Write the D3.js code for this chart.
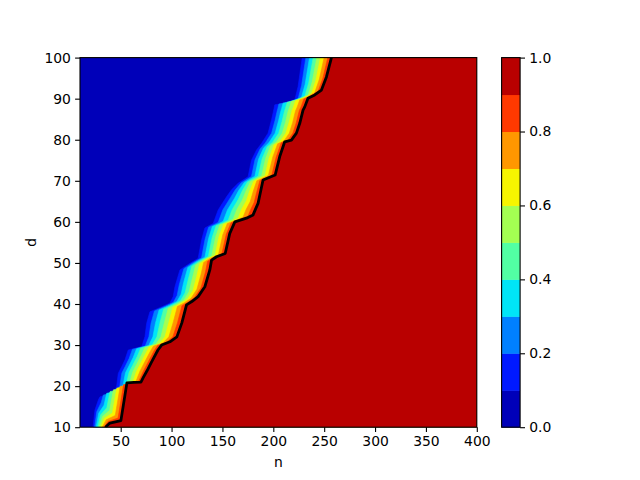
<!DOCTYPE html>
<html>
<head>
<meta charset="utf-8">
<script src="https://cdn.jsdelivr.net/npm/d3@7"></script>
<style>
  html, body { margin: 0; padding: 0; background: #fff; }
  svg { display: block; }
  text { font-family: "DejaVu Sans", sans-serif; font-size: 13.9px; fill: #000; }
</style>
</head>
<body>
<svg id="chart" width="640" height="480"></svg>
<script>
// ---- data ----
// contour levels and their (jet) fill colours, one colour per band
const levels = [0, 0.1, 0.2, 0.3, 0.4, 0.5, 0.6, 0.7, 0.8, 0.9, 1.0];
const bandColors = ["#0000b9", "#0019ff", "#0080ff", "#00e5f7", "#52ffa4",
                    "#a4ff52", "#f7f500", "#ff9700", "#ff3900", "#b90000"];
// 0.1 contour (edge of the dark-blue region); vertex i matches vertex i of the 0.9 contour
const lowN = [22.8, 24.7, 28.0, 29.6, 36.2, 42.7, 46.0, 47.6, 50.9, 54.2, 57.4, 70.6, 73.8, 75.5, 78.7,
              90.2, 98.3, 101.6, 103.3, 108.2, 118.0, 126.1, 129.5, 132.7, 137.0, 140.9, 145.8, 154.0,
              158.9, 165.4, 175.2, 178.5, 183.5, 188.4, 194.8, 198.2, 199.8, 200.6, 201.4, 211.2,
              221.1, 224.3, 227.6, 228.4];
const lowD = [10.0, 14.2, 16.6, 17.4, 17.8, 18.6, 19.9, 23.1, 24.7, 26.4, 28.8, 29.6, 32.0, 35.3, 38.1,
              39.3, 40.2, 41.8, 44.2, 48.3, 49.9, 51.1, 55.6, 58.5, 59.1, 59.6, 62.9, 66.1,
              67.8, 69.4, 71.0, 75.0, 77.5, 79.1, 81.6, 84.8, 86.6, 87.5, 88.5, 88.9,
              89.7, 92.9, 98.6, 100.0];
// 0.9 contour (the black line, edge of the dark-red region)
const highN = [35.0, 39.4, 50.2, 56.1, 63.0, 69.9, 72.0, 76.0, 80.0, 86.6, 90.2, 98.4, 105.2, 110.1, 114.7,
               119.9, 126.1, 132.7, 137.6, 139.3, 144.2, 152.7, 157.2, 162.2, 173.6, 180.1, 182.5, 185.0,
               187.5, 189.9, 201.8, 206.3, 211.2, 217.8, 222.7, 226.0, 229.2, 230.9, 234.1, 240.7,
               247.3, 252.2, 256.0, 257.1];
const highD = [10.0, 11.0, 11.6, 20.8, 20.9, 21.0, 22.0, 23.8, 25.7, 28.8, 30.0, 30.8, 32.0, 35.4, 39.8,
               40.6, 41.8, 44.2, 48.3, 50.7, 51.5, 52.3, 57.2, 60.0, 60.9, 61.7, 63.1, 64.5,
               67.4, 70.2, 71.4, 75.9, 79.5, 79.9, 81.6, 84.0, 87.2, 88.0, 90.1, 90.9,
               92.1, 95.3, 98.9, 100.0];
const nDomain = [10, 400];
const dDomain = [10, 100];
const nTicks = [50, 100, 150, 200, 250, 300, 350, 400];
const dTicks = [10, 20, 30, 40, 50, 60, 70, 80, 90, 100];
const cbTicks = [0.0, 0.2, 0.4, 0.6, 0.8, 1.0];

// ---- layout ----
const L = 80, R = 476.8, T = 57.6, B = 427.2;
const CBL = 501.6, CBR = 520.1;
const svg = d3.select("#chart");
const x = d3.scaleLinear().domain(nDomain).range([L, R]);
const y = d3.scaleLinear().domain(dDomain).range([B, T]);

svg.append("clipPath").attr("id", "plotclip")
  .append("rect").attr("x", L).attr("y", T).attr("width", R - L).attr("height", B - T);
const g = svg.append("g").attr("clip-path", "url(#plotclip)");

// lowest band fills the whole plot
g.append("rect").attr("x", L).attr("y", T).attr("width", R - L).attr("height", B - T)
  .attr("fill", bandColors[0]);

const line = d3.line().x(p => x(p[0])).y(p => y(p[1]));
// contour k (level k/10) lies between the 0.1 and 0.9 contours; fill right of it
for (let k = 1; k <= 9; k++) {
  const t = (k - 1) / 8;
  const pts = lowN.map((a, i) => [a + t * (highN[i] - a), lowD[i] + t * (highD[i] - lowD[i])]);
  pts.push([nDomain[1], dDomain[1]], [nDomain[1], dDomain[0]]);
  g.append("path").attr("d", line(pts) + "Z").attr("fill", bandColors[k])
    .attr("stroke", bandColors[k]).attr("stroke-width", 0.6);
}
// black contour line
g.append("path").attr("d", line(highN.map((n, i) => [n, highD[i]]))).attr("fill", "none")
  .attr("stroke", "#000").attr("stroke-width", 2.8).attr("stroke-linejoin", "round");

// axes
const xAxis = d3.axisBottom(x).tickValues(nTicks).tickSize(4.9).tickPadding(4.2)
  .tickFormat(d3.format("d"));
const yAxis = d3.axisLeft(y).tickValues(dTicks).tickSize(4.9).tickPadding(4.2)
  .tickFormat(d3.format("d"));
const gx = svg.append("g").attr("transform", `translate(0,${B})`).call(xAxis);
const gy = svg.append("g").attr("transform", `translate(${L},0)`).call(yAxis);
[gx, gy].forEach(a => {
  a.select(".domain").remove();
  a.selectAll("line").attr("stroke", "#000").attr("stroke-width", 1.1);
  a.selectAll("text").attr("font-family", "DejaVu Sans").attr("font-size", 13.9).attr("fill", "#000");
});
svg.append("rect").attr("x", L).attr("y", T).attr("width", R - L).attr("height", B - T)
  .attr("fill", "none").attr("stroke", "#000").attr("stroke-width", 1.1);

svg.append("text").attr("x", (L + R) / 2).attr("y", 467).attr("text-anchor", "middle").text("n");
svg.append("text").attr("transform", `translate(36,${(T + B) / 2}) rotate(-90)`)
  .attr("text-anchor", "middle").text("d");

// colorbar
const cy = d3.scaleLinear().domain([levels[0], levels[levels.length - 1]]).range([B, T]);
svg.append("g").selectAll("rect").data(d3.range(levels.length - 1)).join("rect")
  .attr("x", CBL).attr("width", CBR - CBL)
  .attr("y", i => cy(levels[i + 1])).attr("height", i => cy(levels[i]) - cy(levels[i + 1]) + 0.5)
  .attr("fill", i => bandColors[i]);
svg.append("rect").attr("x", CBL).attr("y", T).attr("width", CBR - CBL).attr("height", B - T)
  .attr("fill", "none").attr("stroke", "#000").attr("stroke-width", 1.1);
const cAxis = d3.axisRight(cy).tickValues(cbTicks).tickSize(4.9).tickPadding(4.2)
  .tickFormat(d3.format(".1f"));
const gc = svg.append("g").attr("transform", `translate(${CBR},0)`).call(cAxis);
gc.select(".domain").remove();
gc.selectAll("line").attr("stroke", "#000").attr("stroke-width", 1.1);
gc.selectAll("text").attr("font-family", "DejaVu Sans").attr("font-size", 13.9).attr("fill", "#000");
</script>
</body>
</html>
